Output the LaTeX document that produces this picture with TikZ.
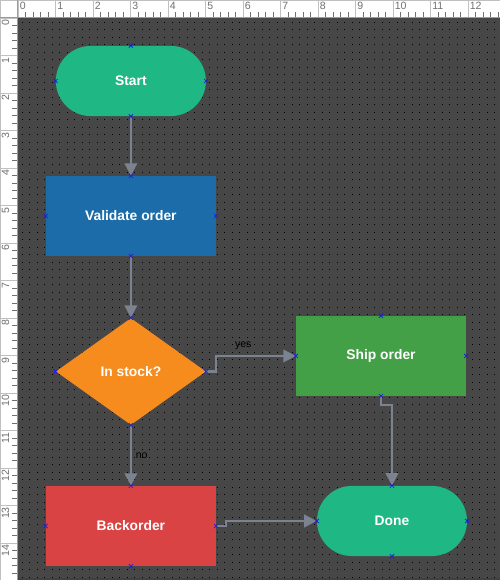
\documentclass[tikz,border=0pt]{standalone}
\usepackage{fontspec}
\setmainfont{Liberation Sans}
\usepackage{tikz}
\usetikzlibrary{positioning, arrows.meta, shapes.geometric}

\definecolor{canvasgray}{HTML}{474747}
\definecolor{rulerline}{HTML}{C0C0C0}
\definecolor{rulertick}{HTML}{707070}
\definecolor{termgreen}{HTML}{1FB784}
\definecolor{procblue}{HTML}{1B6CA8}
\definecolor{decorange}{HTML}{F68B1E}
\definecolor{shipgreen}{HTML}{43A047}
\definecolor{backred}{HTML}{D94343}
\definecolor{flowgray}{HTML}{7A838F}
\definecolor{pinblue}{HTML}{1F1FD6}

\tikzset{
  shapetext/.style={text=white, font=\fontsize{10.5}{12}\selectfont\bfseries},
  terminal/.style={shapetext, rectangle, rounded corners=0.93cm, fill=termgreen,
    minimum width=4cm, minimum height=1.87cm},
  process/.style={shapetext, rectangle, minimum width=4.53cm, minimum height=2.13cm},
  decision/.style={shapetext, diamond, fill=decorange, inner sep=0pt,
    minimum width=4cm, minimum height=2.85cm},
  flow/.style={draw=flowgray, line width=1.6pt, -{Triangle[length=9.5pt,width=9.5pt]}},
  flowlabel/.style={font=\fontsize{8}{9}\selectfont, text=black, inner sep=1pt},
  pin/.style={draw=pinblue, line width=0.6pt},
  rulernum/.style={font=\fontsize{8}{8}\selectfont, text=rulertick, inner sep=0pt}
}

\newcommand{\pinmark}[1]{%
  \draw[pin] (#1) ++(-0.055,-0.055) -- ++(0.11,0.11) ++(-0.11,0) -- ++(0.11,-0.11);}

\begin{document}
\begin{tikzpicture}
  \useasboundingbox (-0.48,0.48) rectangle (12.853,-14.987);

  % canvas and grid
  \fill[canvasgray] (-0.03,0.03) rectangle (12.853,-14.94);
  \fill[black!75] (-0.03,-14.94) rectangle (12.853,-14.987);
  \foreach \x in {0.1,0.3,...,12.8}
    \foreach \y in {0.1,0.3,...,14.9}
      \fill[black] (\x,-\y) rectangle ++(0.03,-0.03);

  % rulers
  \fill[white] (-0.48,0.48) rectangle (12.853,0.03);
  \fill[white] (-0.48,0.48) rectangle (-0.03,-14.987);
  \draw[rulerline] (-0.47,0.47) rectangle (12.853,-14.987);
  \draw[rulertick!70] (-0.48,0.03) -- (12.853,0.03);
  \draw[rulertick!70] (-0.03,0.48) -- (-0.03,-14.987);
  \foreach \i in {0,...,12} {
    \draw[rulerline] (\i,0.03) -- (\i,0.48);
    \node[rulernum, anchor=north west] (top\i) at (\i+0.04,0.44) {\i};
    \foreach \k in {1,...,4}
      \draw[rulertick] (\i+0.2*\k,0.03) -- ++(0,0.12);
  }
  \foreach \j in {0,...,14} {
    \draw[rulerline] (-0.48,-\j) -- (-0.03,-\j);
    \node[rulernum, rotate=90, anchor=north east] (left\j) at (-0.44,-\j-0.04) {\j};
    \foreach \k in {1,...,4}
      \draw[rulertick] (-0.03,-\j-0.2*\k) -- ++(-0.12,0);
  }

  % shapes
  \node[terminal] (start) at (3.01,-1.68) {Start};
  \node[process, fill=procblue] (validate) at (3.01,-5.28) {Validate order};
  \node[decision] (stock) at (3.01,-9.427) {In stock?};
  \node[process, fill=shipgreen] (ship) at (9.68,-9.013) {Ship order};
  \node[process, fill=backred] (backorder) at (3.01,-13.547) {Backorder};
  \node[terminal] (done) at (9.973,-13.413) {Done};

  % connectors
  \draw[flow] (start.south) -- (validate.north);
  \draw[flow] (validate.south) -- (stock.north);
  \draw[flow] (stock.east) -- ++(0.27,0) |- node[pos=0.67, above=3pt, flowlabel] (yeslabel) {yes} (ship.west);
  \draw[flow] (stock.south) -- node[right=2pt, flowlabel] (nolabel) {no} (backorder.north);
  \draw[flow] (ship.south) -- ++(0,-0.24) -| (done.north);
  \draw[flow] (backorder.east) -- ++(0.27,0) |- (done.west);

  \foreach \n in {start,validate,stock,ship,backorder,done}
    \foreach \a in {north,south,east,west}
      \pinmark{\n.\a};
\end{tikzpicture}
\end{document}
